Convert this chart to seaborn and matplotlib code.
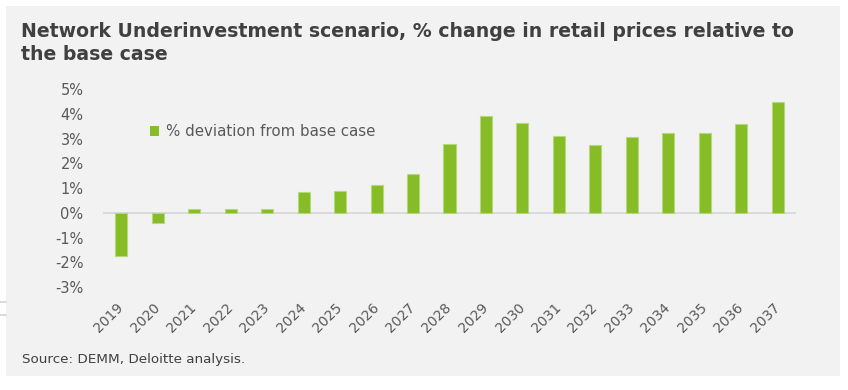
import matplotlib
matplotlib.use("Agg")
import matplotlib.pyplot as plt
import seaborn as sns
import pandas as pd
from matplotlib.patches import Rectangle, Patch
from matplotlib.lines import Line2D
from matplotlib.ticker import FuncFormatter, MultipleLocator

years = [str(y) for y in range(2019, 2038)]
deviation = [-1.75, -0.40, 0.15, 0.16, 0.15, 0.85, 0.89, 1.14, 1.56, 2.79,
             3.92, 3.61, 3.12, 2.72, 3.07, 3.23, 3.24, 3.58, 4.46]
series_label = "% deviation from base case"
title_lines = ["Network Underinvestment scenario, % change in retail prices relative to",
               "the base case"]
source = "Source: DEMM, Deloitte analysis."

df = pd.DataFrame({"year": years, "dev": deviation})

sns.set_theme(style="white")
plt.rcParams["font.family"] = ["DejaVu Sans"]

W, H = 848, 390
fig = plt.figure(figsize=(W / 100, H / 100), dpi=100, facecolor="white")
bg = "#F2F2F2"
fig.patches.append(Rectangle((6 / W, 1 - 376 / H), (840 - 6) / W, (376 - 6) / H,
                             transform=fig.transFigure, facecolor=bg, edgecolor="none", zorder=-5))
for yy in (301.5, 315):
    fig.lines.append(Line2D([0, 6 / W], [1 - yy / H] * 2, transform=fig.transFigure,
                            color="#DCDCDC", linewidth=1.5))

ax = fig.add_axes([103 / W, 1 - 287 / H, (796 - 103) / W, (287 - 89) / H])
ax.set_facecolor("none")
ax.set_zorder(2)
green = "#86BC25"
sns.barplot(data=df, x="year", y="dev", color=green, width=0.33, ax=ax,
            edgecolor="#B5D87A", linewidth=0.8, saturation=1)
ax.set_ylim(-3, 5)
ax.set_xlim(-0.5, len(years) - 0.5)
ax.yaxis.set_major_locator(MultipleLocator(1))
ax.yaxis.set_major_formatter(FuncFormatter(lambda v, p: f"{int(round(v))}%"))
for s in ax.spines.values():
    s.set_visible(False)
ax.axhline(0, color="#D6D6D6", linewidth=1.2, zorder=0.5)
ax.set_xlabel("")
ax.set_ylabel("")
ax.tick_params(axis="both", length=0, colors="#595959", labelsize=10)
ax.tick_params(axis="y", pad=14, labelsize=10.5)
ax.tick_params(axis="x", pad=13)
plt.setp(ax.get_xticklabels(), rotation=45, ha="right", va="center", rotation_mode="anchor")

ax.legend(handles=[Patch(facecolor=green, edgecolor="none", label=series_label)],
          loc="center left", bbox_to_anchor=(0.0678, 0.784), frameon=False,
          borderaxespad=0, borderpad=0,
          fontsize=10.8, labelcolor="#595959", handlelength=0.6, handleheight=0.6,
          handletextpad=0.5)

for i, line in enumerate(title_lines):
    fig.text(21 / W, 1 - (37 + 22.5 * i) / H, line, fontsize=13.6, fontweight="bold",
             color="#404040", va="baseline", ha="left")
fig.text(22 / W, 1 - 360 / H, source, fontsize=9.7, color="#404040", va="center", ha="left")

fig.savefig("out.png", dpi=100, facecolor="white")
